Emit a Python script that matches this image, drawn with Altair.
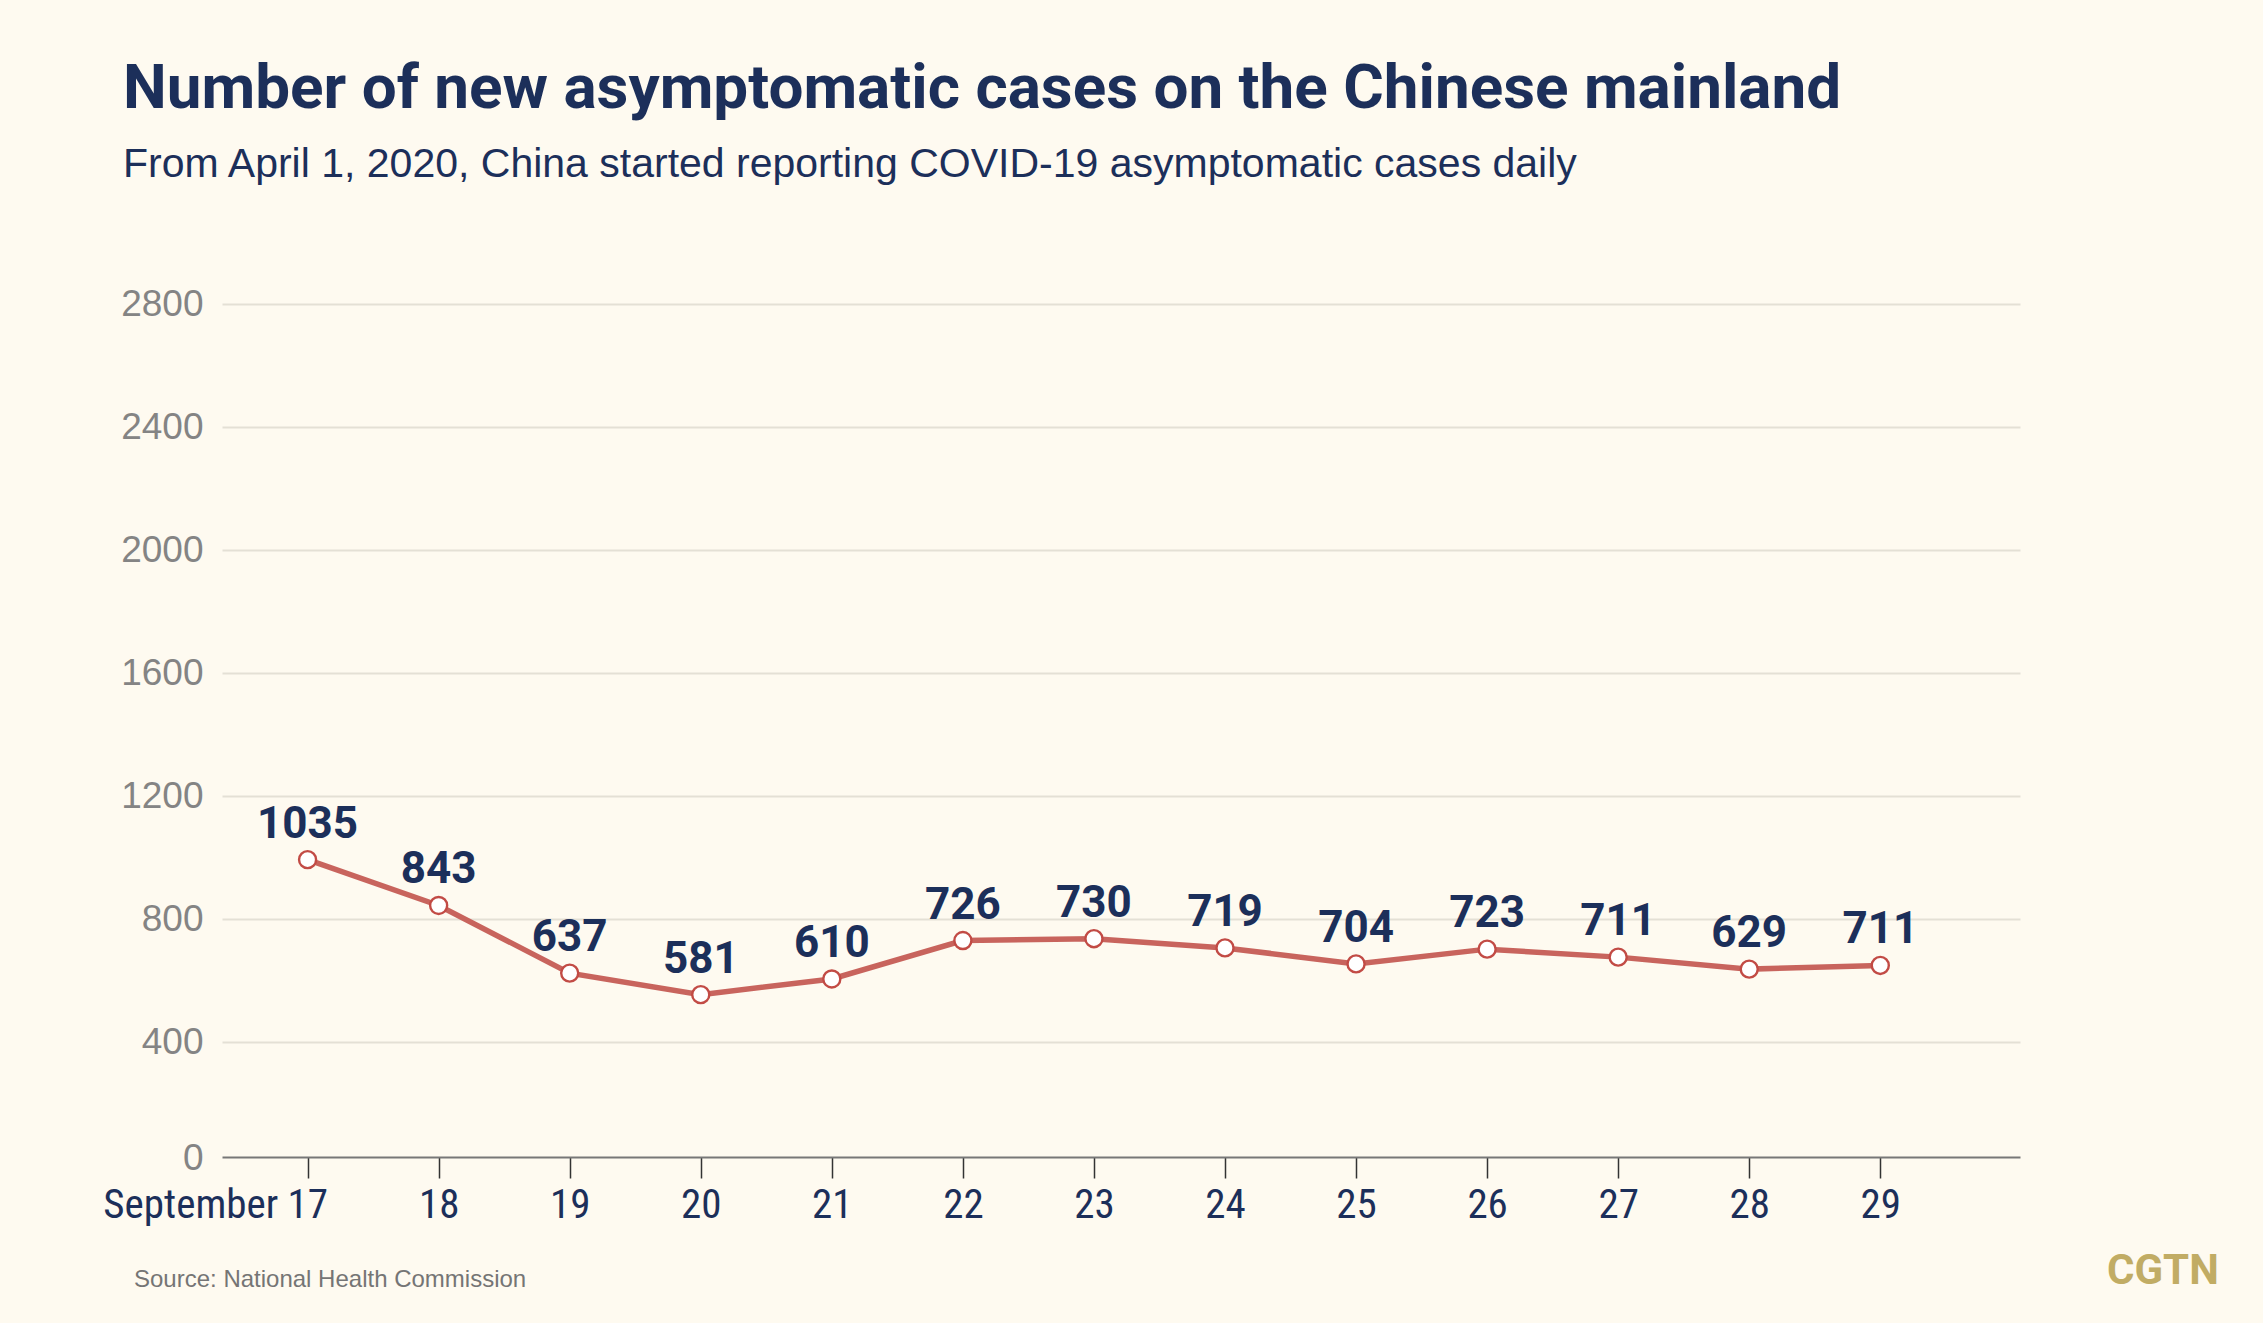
import altair as alt
import pandas as pd

# ---- data ----
days = [17, 18, 19, 20, 21, 22, 23, 24, 25, 26, 27, 28, 29]
plotted_values = [993, 844, 624, 554, 605, 730, 736, 706, 654, 702, 676, 637, 649]
value_labels = ["1035", "843", "637", "581", "610", "726", "730", "719", "704", "723", "711", "629", "711"]
y_ticks = [0, 400, 800, 1200, 1600, 2000, 2400, 2800]

title_text = "Number of new asymptomatic cases on the Chinese mainland"
subtitle_text = "From April 1, 2020, China started reporting COVID-19 asymptomatic cases daily"
source_text = ["Source: National Health Commission"]
brand_text = ["CGTN"]

NAVY = "#1c2f5a"
RED_LINE = "#c8645d"
RED_PT = "#c24b45"
GREY = "#848484"
BG = "#fefaf0"
NARROW = "Liberation Sans Narrow, Roboto Condensed, Roboto, sans-serif"

df = pd.DataFrame({"day": days, "value": plotted_values, "label": value_labels})

x_enc = alt.X(
    "day:Q",
    scale=alt.Scale(domain=[16.347, 30.066], nice=False, zero=False),
    axis=alt.Axis(
        values=days,
        title=None,
        grid=False,
        domainColor="#777777",
        domainWidth=2,
        tickColor="#333333",
        tickWidth=1.5,
        tickSize=21,
        offset=-8,
        labelExpr="datum.value == 17 ? 'September 17' : '' + datum.value",
        labelAlign={"condition": {"test": "datum.value == 17", "value": "right"}, "value": "center"},
        labelOffset={"condition": {"test": "datum.value == 17", "value": 20}, "value": 0},
        labelLimit=0,
        labelFont=NARROW,
        labelFontSize=41,
        labelColor=NAVY,
        labelPadding=7,
        labelBaseline="top",
    ),
)

y_enc = alt.Y(
    "value:Q",
    scale=alt.Scale(domain=[0, 2800], nice=False),
    axis=alt.Axis(
        values=y_ticks,
        title=None,
        format="d",
        domain=False,
        ticks=False,
        grid=True,
        gridColor="#e4e0d5",
        gridWidth=2,
        gridOpacity={"condition": {"test": "datum.value == 0", "value": 0}, "value": 1},
        labelOffset={"condition": {"test": "datum.value == 0", "value": -7}, "value": 0},
        labelFont="Liberation Sans, Arial, sans-serif",
        labelFontSize=37,
        labelColor=GREY,
        labelPadding=19,
    ),
)

base = alt.Chart(df)

line = base.mark_line(color=RED_LINE, strokeWidth=5.5).encode(x=x_enc, y=y_enc)

points = base.mark_point(
    shape="circle", filled=True, fill="#ffffff", stroke=RED_PT,
    strokeWidth=2.4, size=290, opacity=1
).encode(x="day:Q", y="value:Q")

labels = base.mark_text(
    font="Roboto", fontSize=44, fontWeight="bold", color=NAVY,
    baseline="alphabetic", align="center", dy=-22
).encode(x="day:Q", y="value:Q", text="label:N")

source = alt.Chart(pd.DataFrame({"t": source_text})).mark_text(
    font="Liberation Sans, Arial, sans-serif", fontSize=24, color="#757575",
    align="left", baseline="alphabetic"
).encode(text="t:N", x=alt.value(-88), y=alt.value(983))

brand = alt.Chart(pd.DataFrame({"t": brand_text})).mark_text(
    font="Roboto", fontSize=42, fontWeight="bold", color="#c1ac64",
    align="left", baseline="alphabetic"
).encode(text="t:N", x=alt.value(1885), y=alt.value(980))

chart = alt.layer(line, points, labels, source, brand).properties(
    width=1798,
    height=861,
    title=alt.TitleParams(
        text=title_text,
        subtitle=subtitle_text,
        anchor="start",
        frame="group",
        dx=-99,
        offset=99,
        font="Roboto",
        fontSize=62,
        fontWeight="bold",
        color=NAVY,
        subtitleFont="Liberation Sans, Arial, sans-serif",
        subtitleFontSize=41,
        subtitleColor=NAVY,
        subtitlePadding=24,
    ),
    autosize=alt.AutoSizeParams(type="none"),
    padding={"left": 222, "top": 304, "right": 243, "bottom": 158},
    background=BG,
).configure_view(stroke=None)

chart.save("out.html", embed_options={"renderer": "svg", "actions": False})
